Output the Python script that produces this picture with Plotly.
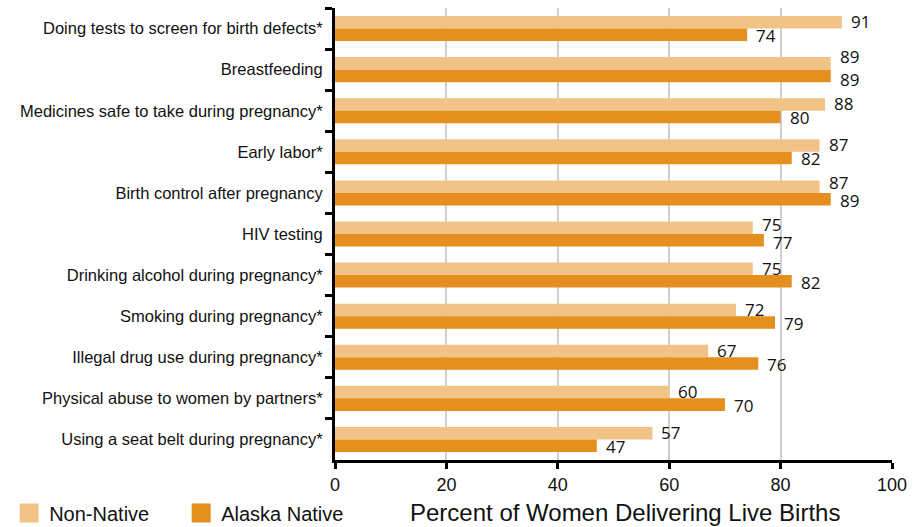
import plotly.graph_objects as go

categories = [
    "Doing tests to screen for birth defects*",
    "Breastfeeding",
    "Medicines safe to take during pregnancy*",
    "Early labor*",
    "Birth control after pregnancy",
    "HIV testing",
    "Drinking alcohol during pregnancy*",
    "Smoking during pregnancy*",
    "Illegal drug use during pregnancy*",
    "Physical abuse to women by partners*",
    "Using a seat belt during pregnancy*",
]
non_native = [91, 89, 88, 87, 87, 75, 75, 72, 67, 60, 57]
alaska_native = [74, 89, 80, 82, 89, 77, 82, 79, 76, 70, 47]
x_ticks = [0, 20, 40, 60, 80, 100]

C_NON = "#F1C386"
C_AK = "#E58F1E"
NARROW = "Liberation Sans Narrow, Arial Narrow, sans-serif"
NUMFONT = dict(family="Open Sans, sans-serif", size=17, color="#111")

fig = go.Figure()
for name, vals, col in [("Non-Native", non_native, C_NON), ("Alaska Native", alaska_native, C_AK)]:
    fig.add_trace(go.Bar(
        y=categories, x=vals, orientation="h", name=name,
        marker=dict(color=col, line=dict(width=0)),
        showlegend=False, hoverinfo="x+y+name",
    ))
    fig.add_trace(go.Scatter(
        x=[None], y=[None], mode="markers", name=name,
        marker=dict(symbol="square", size=16, color=col, line=dict(color=col, width=3)),
    ))

annotations = []
for cat, a, b in zip(categories, non_native, alaska_native):
    diff = abs(a - b)
    if diff == 0:
        up, down = 13, -10
    elif diff <= 3:
        up, down = 10, -8
    else:
        up, down = 7, -7
    annotations.append(dict(x=a, y=cat, xref="x", yref="y", text=str(a), showarrow=False,
                            xanchor="left", yanchor="middle", xshift=7, yshift=up, font=NUMFONT))
    annotations.append(dict(x=b, y=cat, xref="x", yref="y", text=str(b), showarrow=False,
                            xanchor="left", yanchor="middle", xshift=7, yshift=down, font=NUMFONT))
annotations.append(dict(text="Percent of Women Delivering Live Births", xref="paper", yref="paper",
                        x=0.52, y=-0.117, xanchor="center", yanchor="middle", showarrow=False,
                        font=dict(family=NARROW, size=24)))

fig.update_layout(
    width=923, height=527,
    margin=dict(l=335, r=31, t=8, b=67, autoexpand=False),
    paper_bgcolor="white", plot_bgcolor="white",
    barmode="group", bargap=0.39, bargroupgap=0,
    font=dict(family=NARROW, color="#111"),
    legend=dict(orientation="h", x=-0.585, y=-0.117,
                xanchor="left", yanchor="middle",
                font=dict(family=NARROW, size=20), entrywidth=127,
                itemsizing="trace"),
    xaxis=dict(range=[0, 100], tickvals=x_ticks, showgrid=True, gridcolor="#d0d0d0",
               gridwidth=1.5, zeroline=False, showline=True, linecolor="black", linewidth=3,
               ticks="outside", ticklen=6, tickwidth=2.5, tickcolor="black",
               tickfont=dict(family=NARROW, size=18), automargin=False),
    yaxis=dict(autorange="reversed", showline=True, linecolor="black", linewidth=3,
               ticks="outside", tickson="boundaries", ticklen=7, tickwidth=2.5,
               tickcolor="black", showgrid=False, tickfont=dict(family=NARROW, size=16.5),
               ticklabelstandoff=6, automargin=False),
    annotations=annotations,
)

fig.write_html("out.html", config={"displayModeBar": False},
               post_script="document.body.style.margin='0';document.body.style.overflow='hidden';")
